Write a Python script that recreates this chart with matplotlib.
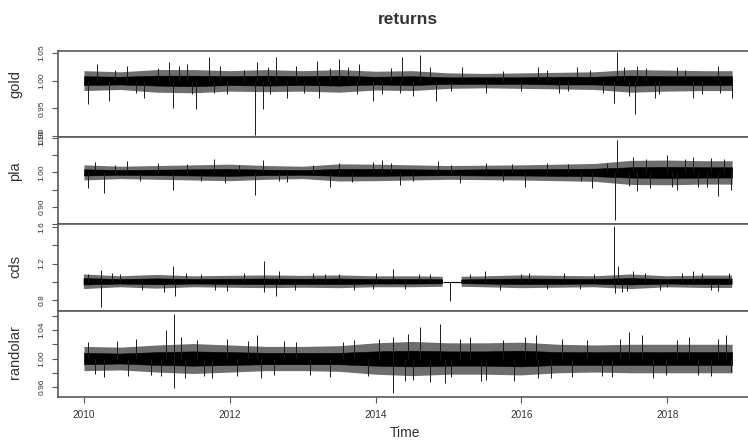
import numpy as np
import matplotlib.pyplot as plt

plt.rcParams['font.family'] = ['Liberation Sans', 'DejaVu Sans']

# time grid (years) for the dense part of each series
band_t = [2010.0, 2010.5, 2011.0, 2011.5, 2012.0, 2012.5, 2013.0, 2013.5, 2014.0,
          2014.5, 2015.0, 2015.5, 2016.0, 2016.5, 2017.0, 2017.5, 2018.0, 2018.5, 2018.89]

# gold: solid core, outer fringe, single spikes
gold_hi = [1.008, 1.007, 1.009, 1.009, 1.008, 1.009, 1.008, 1.009, 1.007, 1.008,
           1.006, 1.006, 1.006, 1.007, 1.007, 1.009, 1.008, 1.008, 1.008]
gold_lo = [0.992, 0.993, 0.991, 0.990, 0.992, 0.991, 0.992, 0.991, 0.993, 0.992,
           0.994, 0.994, 0.994, 0.993, 0.993, 0.991, 0.992, 0.992, 0.992]
gold_fhi = [1.018, 1.016, 1.020, 1.020, 1.018, 1.020, 1.018, 1.020, 1.017, 1.018,
            1.014, 1.013, 1.014, 1.015, 1.016, 1.020, 1.019, 1.018, 1.018]
gold_flo = [0.982, 0.984, 0.979, 0.978, 0.981, 0.980, 0.981, 0.979, 0.983, 0.982,
            0.986, 0.987, 0.986, 0.985, 0.984, 0.979, 0.981, 0.982, 0.982]
gold_spike_t = [2010.05, 2010.34, 2010.18, 2010.59, 2010.83, 2011.16, 2011.22, 2011.30,
                2011.41, 2011.54, 2011.72, 2011.87, 2011.96, 2012.34, 2012.38, 2012.46,
                2012.64, 2012.79, 2012.91, 2013.20, 2013.23, 2013.50, 2013.62, 2013.77,
                2013.96, 2014.09, 2014.36, 2014.61, 2014.51, 2014.83, 2015.19, 2015.52,
                2016.23, 2016.52, 2016.76, 2017.31, 2017.27, 2017.56, 2017.59, 2017.83,
                2018.13, 2018.36, 2018.69, 2018.89,
                2010.42, 2010.71, 2011.01, 2011.48, 2011.78, 2012.19, 2012.52, 2012.55,
                2013.02, 2013.38, 2013.74, 2014.21, 2014.33, 2014.74, 2015.04, 2015.75,
                2015.99, 2016.35, 2016.64, 2016.94, 2017.12, 2017.41, 2017.47, 2017.71,
                2017.89, 2018.24, 2018.48, 2018.72]
gold_spike_v = [0.957, 0.963, 1.030, 1.027, 0.969, 1.033, 0.951, 1.027,
                1.030, 0.948, 1.042, 1.027, 0.975, 0.901, 1.033, 0.948,
                1.042, 0.969, 1.027, 1.036, 0.969, 1.039, 1.024, 1.030,
                0.964, 0.975, 1.042, 1.047, 0.972, 0.964, 1.024, 0.978,
                1.024, 0.978, 1.024, 1.051, 0.960, 0.939, 1.027, 0.969,
                1.024, 0.969, 1.027, 0.969,
                1.020, 0.978, 1.022, 0.975, 0.978, 1.020, 1.025, 0.975,
                0.978, 1.022, 0.975, 1.022, 0.978, 1.025, 0.982, 1.018,
                0.982, 1.020, 0.982, 1.020, 0.978, 1.025, 0.972, 1.022,
                0.975, 1.020, 0.975, 0.978]

# pla
pla_hi = [1.009, 1.007, 1.008, 1.009, 1.010, 1.008, 1.007, 1.010, 1.010, 1.009,
          1.008, 1.009, 1.009, 1.010, 1.011, 1.015, 1.016, 1.015, 1.015]
pla_lo = [0.991, 0.993, 0.992, 0.991, 0.990, 0.992, 0.993, 0.990, 0.990, 0.991,
          0.992, 0.991, 0.991, 0.990, 0.989, 0.985, 0.984, 0.985, 0.985]
pla_fhi = [1.022, 1.018, 1.020, 1.022, 1.024, 1.020, 1.018, 1.025, 1.024, 1.022,
           1.020, 1.021, 1.022, 1.024, 1.026, 1.035, 1.036, 1.034, 1.034]
pla_flo = [0.978, 0.982, 0.980, 0.978, 0.976, 0.980, 0.982, 0.975, 0.976, 0.978,
           0.980, 0.979, 0.978, 0.976, 0.974, 0.965, 0.964, 0.966, 0.966]
pla_spike_t = [2010.06, 2010.27, 2010.15, 2010.59, 2011.22, 2011.01, 2011.78, 2011.93,
               2012.34, 2012.46, 2012.79, 2013.38, 2013.50, 2013.97, 2014.09, 2014.33,
               2014.86, 2015.16, 2015.52, 2016.05, 2016.35, 2016.97, 2017.31, 2017.29,
               2017.59, 2017.53, 2018.00, 2018.13, 2018.36, 2018.54, 2018.69, 2018.87,
               2017.77,
               2010.42, 2010.77, 2011.42, 2011.60, 2012.13, 2012.67, 2013.14, 2013.68,
               2014.21, 2014.51, 2015.04, 2015.75, 2015.87, 2016.64, 2016.82, 2017.18,
               2017.47, 2017.71, 2018.06, 2018.24, 2018.42, 2018.60, 2018.78]
pla_spike_v = [0.954, 0.940, 1.030, 1.033, 0.950, 1.026, 1.040, 0.969,
               0.935, 1.035, 0.973, 0.959, 1.028, 1.030, 1.035, 0.964,
               1.033, 0.969, 1.028, 0.959, 1.026, 0.954, 1.094, 0.862,
               0.945, 1.045, 1.050, 0.950, 1.045, 0.959, 0.930, 0.950,
               0.954,
               1.022, 0.975, 1.024, 0.976, 1.022, 0.975, 1.022, 0.973,
               1.026, 0.975, 1.022, 0.976, 1.024, 1.025, 0.975, 1.028,
               0.960, 1.040, 0.958, 1.038, 0.958, 1.042, 1.040]

# cds (flat stretch around the start of 2015)
cds_t = [2010.0, 2010.5, 2011.0, 2011.5, 2012.0, 2012.5, 2013.0, 2013.5, 2014.0,
         2014.5, 2014.92, 2014.921, 2015.179, 2015.18, 2015.5, 2016.0, 2016.5,
         2017.0, 2017.5, 2018.0, 2018.5, 2018.89]
cds_hi = [1.035, 1.025, 1.032, 1.025, 1.028, 1.030, 1.028, 1.030, 1.025,
          1.025, 1.022, np.nan, np.nan, 1.020, 1.025, 1.030, 1.028,
          1.025, 1.035, 1.025, 1.030, 1.030]
cds_lo = [0.965, 0.975, 0.968, 0.975, 0.972, 0.970, 0.972, 0.970, 0.975,
          0.975, 0.978, np.nan, np.nan, 0.980, 0.975, 0.970, 0.972,
          0.975, 0.965, 0.975, 0.970, 0.970]
cds_fhi = [1.080, 1.060, 1.075, 1.060, 1.065, 1.070, 1.065, 1.070, 1.060,
           1.060, 1.055, np.nan, np.nan, 1.055, 1.060, 1.070, 1.065,
           1.060, 1.080, 1.060, 1.068, 1.068]
cds_flo = [0.920, 0.940, 0.925, 0.940, 0.935, 0.930, 0.935, 0.930, 0.940,
           0.940, 0.945, np.nan, np.nan, 0.945, 0.940, 0.930, 0.935,
           0.940, 0.920, 0.940, 0.932, 0.932]
cds_flat = [2014.92, 2015.18]
cds_spike_t = [2010.24, 2010.24, 2010.06, 2010.39, 2011.22, 2011.25, 2011.10, 2011.60,
               2011.96, 2012.47, 2012.47, 2012.64, 2012.67, 2013.14, 2013.50, 2014.24,
               2013.97, 2014.74, 2015.02, 2015.50, 2015.99, 2016.35, 2016.58, 2017.27,
               2017.29, 2017.33, 2017.38, 2017.53, 2018.36, 2018.48, 2018.70, 2018.00,
               2010.50, 2010.80, 2011.40, 2011.80, 2012.20, 2012.90, 2013.30, 2013.70,
               2014.00, 2014.40, 2014.60, 2015.30, 2015.70, 2016.10, 2016.80, 2017.00,
               2017.45, 2017.70, 2017.90, 2018.20, 2018.60, 2018.85]
cds_spike_v = [0.727, 1.127, 1.084, 1.100, 1.175, 0.847, 0.884, 1.084,
               0.902, 1.229, 0.884, 0.847, 1.120, 1.100, 1.084, 1.138,
               0.920, 1.084, 0.785, 1.120, 1.084, 0.920, 1.100, 1.611,
               0.873, 1.175, 0.884, 1.120, 1.120, 1.100, 0.902, 0.940,
               1.090, 0.915, 1.095, 0.915, 1.095, 0.915, 1.090, 0.915,
               1.095, 0.920, 1.090, 1.090, 0.915, 1.095, 0.920, 1.090,
               0.900, 1.095, 0.915, 1.095, 0.915, 1.095]

# randolar
rand_hi = [1.008, 1.007, 1.009, 1.010, 1.009, 1.008, 1.008, 1.008, 1.010, 1.011,
           1.010, 1.010, 1.011, 1.009, 1.009, 1.009, 1.009, 1.009, 1.009]
rand_lo = [0.992, 0.993, 0.991, 0.990, 0.991, 0.992, 0.992, 0.992, 0.990, 0.989,
           0.990, 0.990, 0.989, 0.991, 0.991, 0.991, 0.991, 0.991, 0.991]
rand_fhi = [1.017, 1.016, 1.019, 1.021, 1.019, 1.017, 1.017, 1.018, 1.022, 1.024,
            1.022, 1.022, 1.023, 1.020, 1.019, 1.020, 1.020, 1.020, 1.020]
rand_flo = [0.983, 0.984, 0.981, 0.979, 0.981, 0.983, 0.983, 0.982, 0.978, 0.976,
            0.978, 0.978, 0.977, 0.980, 0.981, 0.980, 0.980, 0.980, 0.980]
rand_spike_t = [2011.23, 2011.23, 2011.13, 2011.33, 2011.38, 2010.06, 2010.27, 2010.71,
                2010.92, 2011.75, 2011.96, 2012.37, 2012.43, 2012.91, 2013.38, 2013.71,
                2014.24, 2014.24, 2014.61, 2014.74, 2014.89, 2014.51, 2015.04, 2015.52,
                2015.16, 2015.75, 2016.20, 2016.23, 2016.70, 2017.24, 2017.47, 2017.65,
                2017.98, 2018.13, 2018.42, 2018.81, 2018.87,
                2010.15, 2010.45, 2010.60, 2011.05, 2011.55, 2011.65, 2012.10, 2012.25,
                2012.60, 2012.75, 2013.10, 2013.55, 2013.90, 2014.05, 2014.40, 2014.45,
                2014.95, 2015.30, 2015.45, 2015.90, 2016.05, 2016.40, 2016.55, 2016.90,
                2017.10, 2017.35, 2017.80, 2018.30, 2018.60, 2018.70]
rand_spike_v = [1.063, 0.959, 1.040, 1.030, 0.972, 1.023, 0.974, 1.028,
                0.977, 0.972, 1.028, 1.033, 0.972, 1.023, 0.974, 1.026,
                0.951, 1.030, 1.044, 0.967, 1.049, 0.970, 0.974, 0.970,
                1.028, 1.026, 1.033, 0.972, 0.974, 0.974, 1.037, 1.033,
                0.977, 1.026, 0.977, 1.033, 0.981,
                0.978, 1.024, 0.976, 0.975, 1.026, 0.975, 0.976, 1.025,
                0.977, 1.024, 0.977, 1.023, 0.976, 1.028, 0.968, 1.034,
                0.966, 1.030, 0.968, 0.968, 1.030, 0.972, 1.028, 1.026,
                0.975, 1.028, 0.973, 1.030, 0.975, 1.028]

names = ['gold', 'pla', 'cds', 'randolar']
name_y = [84, 171, 267, 352]       # pixel rows of the panel labels
ylims = [(0.898, 1.0536), (0.854, 1.103), (0.68, 1.633), (0.946, 1.0667)]
yticks = [[0.90, 0.95, 1.00, 1.05],
          [0.85, 0.90, 0.95, 1.00, 1.05, 1.10],
          [0.8, 1.0, 1.2, 1.4, 1.6],
          [0.96, 0.98, 1.00, 1.02, 1.04, 1.06]]
ylabs = [['0.90', '0.95', '1.00', '1.05'],
         ['', '0.90', '', '1.00', '', '1.10'],
         ['0.8', '', '1.2', '', '1.6'],
         ['0.96', '', '1.00', '', '1.04', '']]

series = [(band_t, gold_hi, gold_lo, gold_fhi, gold_flo, gold_spike_t, gold_spike_v),
          (band_t, pla_hi, pla_lo, pla_fhi, pla_flo, pla_spike_t, pla_spike_v),
          (cds_t, cds_hi, cds_lo, cds_fhi, cds_flo, cds_spike_t, cds_spike_v),
          (band_t, rand_hi, rand_lo, rand_fhi, rand_flo, rand_spike_t, rand_spike_v)]

W, H = 748, 441
fig = plt.figure(figsize=(W / 100, H / 100), dpi=100)
edges = [51, 137, 224, 311, 397]   # pixel rows of panel borders
left, right = 58, 758              # right border falls outside the picture
grey = '#5a5a5a'
txt = '#333333'

axes = []
for i in range(4):
    top, bot = edges[i], edges[i + 1]
    ax = fig.add_axes([left / W, 1 - bot / H, (right - left) / W, (bot - top) / H])
    t, hi, lo, fhi, flo, st, sv = series[i]
    ax.fill_between(t, flo, fhi, color='#6e6e6e', lw=0)
    ax.vlines(st, 1.0, sv, color='#1a1a1a', lw=0.7)
    ax.fill_between(t, lo, hi, color='k', lw=0.4, edgecolor='k')
    if i == 2:
        ax.hlines(1.0, cds_flat[0], cds_flat[1], color='k', lw=0.8)
    ax.set_xlim(2009.644, 2019.245)
    ax.set_ylim(*ylims[i])
    ax.set_yticks(yticks[i])
    ax.set_yticklabels(ylabs[i], rotation=90, va='center', fontsize=6, color=txt)
    ax.tick_params(axis='y', length=4, width=0.8, color=grey, pad=5)
    for s in ax.spines.values():
        s.set_color(grey)
        s.set_linewidth(1.2)
    ax.spines['right'].set_visible(False)
    fig.text(15 / W, 1 - name_y[i] / H, names[i], rotation=90,
             ha='center', va='center', fontsize=10.5, color=txt)
    if i < 3:
        ax.set_xticks([])
    axes.append(ax)

ax = axes[-1]
ax.set_xticks([2010, 2012, 2014, 2016, 2018])
ax.set_xticklabels(['2010', '2012', '2014', '2016', '2018'], fontsize=7.2, color=txt)
ax.tick_params(axis='x', length=4, width=0.8, color=grey, pad=5)
fig.text(405 / W, 1 - 433 / H, 'Time', ha='center', va='center', fontsize=10, color=txt)
fig.text(408 / W, 1 - 20 / H, 'returns', ha='center', va='center', fontsize=12.5,
         fontweight='bold', color=txt)

fig.savefig('out.png', dpi=100)
